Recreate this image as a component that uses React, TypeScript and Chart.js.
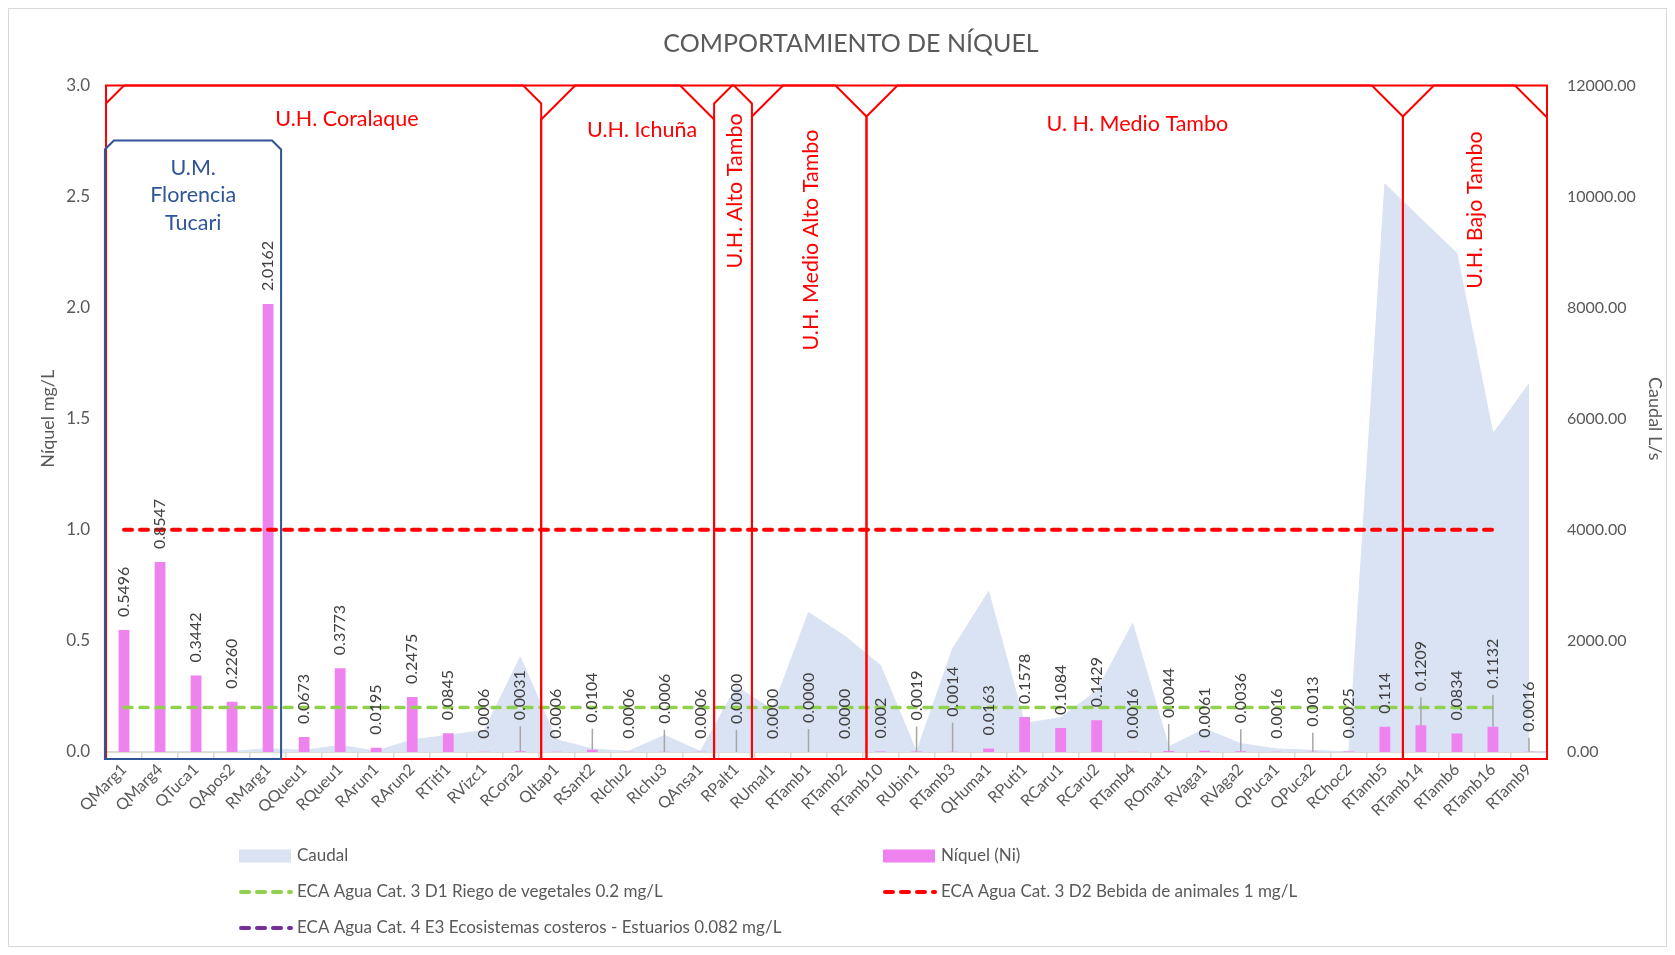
import React, { useEffect, useRef } from "react";
import { Chart, registerables } from "chart.js";

Chart.register(...registerables);

const FONT = "Lato, 'Open Sans', sans-serif";
const GREY = "#595959";

const chartTitle = "COMPORTAMIENTO DE NÍQUEL";

const categories = [
  "QMarg1", "QMarg4", "QTuca1", "QApos2", "RMarg1", "QQueu1", "RQueu1", "RArun1", "RArun2", "RTiti1",
  "RVizc1", "RCora2", "QItap1", "RSant2", "RIchu2", "RIchu3", "QAnsa1", "RPalt1", "RUmal1", "RTamb1",
  "RTamb2", "RTamb10", "RUbin1", "RTamb3", "QHuma1", "RPuti1", "RCaru1", "RCaru2", "RTamb4", "ROmat1",
  "RVaga1", "RVaga2", "QPuca1", "QPuca2", "RChoc2", "RTamb5", "RTamb14", "RTamb6", "RTamb16", "RTamb9",
];

const niquel = [
  0.5496, 0.8547, 0.3442, 0.226, 2.0162, 0.0673, 0.3773, 0.0195, 0.2475, 0.0845,
  0.0006, 0.0031, 0.0006, 0.0104, 0.0006, 0.0006, 0.0006, 0.0, 0.0, 0.0,
  0.0, 0.002, 0.0019, 0.0014, 0.0163, 0.1578, 0.1084, 0.1429, 0.0016, 0.0044,
  0.0061, 0.0036, 0.0016, 0.0013, 0.0025, 0.114, 0.1209, 0.0834, 0.1132, 0.0016,
];

const niquelLabels = [
  "0.5496", "0.8547", "0.3442", "0.2260", "2.0162", "0.0673", "0.3773", "0.0195", "0.2475", "0.0845",
  "0.0006", "0.0031", "0.0006", "0.0104", "0.0006", "0.0006", "0.0006", "0.0000", "0.0000", "0.0000",
  "0.0000", "0.002", "0.0019", "0.0014", "0.0163", "0.1578", "0.1084", "0.1429", "0.0016", "0.0044",
  "0.0061", "0.0036", "0.0016", "0.0013", "0.0025", "0.114", "0.1209", "0.0834", "0.1132", "0.0016",
];

const caudal = [
  0, 0, 0, 10, 60, 30, 120, 15, 220, 300,
  390, 1710, 224, 55, 12, 300, 12, 1175, 765, 2512,
  2090, 1560, 0, 1860, 2890, 515, 618, 1100, 2315, 90,
  418, 150, 55, 30, 0, 10230, 9600, 8980, 5730, 6630,
];

const ecaRiego = [
  0.2, 0.2, 0.2, 0.2, 0.2, 0.2, 0.2, 0.2, 0.2, 0.2,
  0.2, 0.2, 0.2, 0.2, 0.2, 0.2, 0.2, 0.2, 0.2, 0.2,
  0.2, 0.2, 0.2, 0.2, 0.2, 0.2, 0.2, 0.2, 0.2, 0.2,
  0.2, 0.2, 0.2, 0.2, 0.2, 0.2, 0.2, 0.2, 0.2, null,
];

const ecaBebida = [
  1, 1, 1, 1, 1, 1, 1, 1, 1, 1,
  1, 1, 1, 1, 1, 1, 1, 1, 1, 1,
  1, 1, 1, 1, 1, 1, 1, 1, 1, 1,
  1, 1, 1, 1, 1, 1, 1, 1, 1, null,
];

const ecaEstuarios: (number | null)[] = [];

const leftTicks = [0, 0.5, 1, 1.5, 2, 2.5, 3];
const rightTicks = [0, 2000, 4000, 6000, 8000, 10000, 12000];

// extra lift (px) for labels drawn with a leader line
const labelLift = [
  0, 0, 0, 0, 0, 0, 0, 0, 0, 0,
  0, 18, 0, 14, 0, 15, 0, 15, 0, 16,
  0, 0, 18, 22, 0, 0, 0, 0, 0, 20,
  0, 15, 0, 12, 0, 0, 21, 0, 25, 7,
];

// hydrographic unit boxes, in category-boundary units
const units = [
  { from: 0, to: 12.08, snipL: 18, snipR: 18, color: "#ff0000", top: 0 },
  { from: 12.08, to: 16.88, snipL: 34, snipR: 34, color: "#ff0000", top: 0 },
  { from: 16.88, to: 17.93, snipL: 18, snipR: 18, color: "#ff0000", top: 0 },
  { from: 17.93, to: 21.11, snipL: 31, snipR: 31, color: "#ff0000", top: 0 },
  { from: 21.11, to: 36, snipL: 31, snipR: 31, color: "#ff0000", top: 0 },
  { from: 36, to: 40, snipL: 31, snipR: 32, color: "#ff0000", top: 0 },
  { from: -0.03, to: 4.86, snipL: 9, snipR: 9, color: "#2f5597", top: 55 },
];

const unitLabels = [
  { lines: ["U.H. Coralaque"], at: 6.69, dy: 33.5, rot: false, color: "#ff0000" },
  { lines: ["U.M.", "Florencia", "Tucari"], at: 2.42, dy: 82.5, rot: false, color: "#2f5597" },
  { lines: ["U.H. Ichuña"], at: 14.88, dy: 44.5, rot: false, color: "#ff0000" },
  { lines: ["U.H. Alto Tambo"], at: 17.46, dy: 105.5, rot: true, color: "#ff0000" },
  { lines: ["U.H. Medio Alto Tambo"], at: 19.57, dy: 154.5, rot: true, color: "#ff0000" },
  { lines: ["U. H. Medio Tambo"], at: 28.63, dy: 38.5, rot: false, color: "#ff0000" },
  { lines: ["U.H. Bajo Tambo"], at: 38.0, dy: 124.5, rot: true, color: "#ff0000" },
];

const boundaryX = (chart: any, b: number) => chart.scales.x.getPixelForValue(b - 0.5);

const labelPlugin = {
  id: "niLabels",
  afterDatasetsDraw(chart: any) {
    const idx = chart.data.datasets.findIndex((d: any) => d.type === "bar");
    const meta = chart.getDatasetMeta(idx);
    const ctx = chart.ctx;
    ctx.save();
    meta.data.forEach((bar: any, i: number) => {
      const x = bar.x;
      const top = bar.y;
      const lift = labelLift[i] || 0;
      const bottom = top - 13 - lift;
      if (lift > 0) {
        ctx.strokeStyle = "#a6a6a6";
        ctx.lineWidth = 1.5;
        ctx.beginPath();
        ctx.moveTo(x, bottom + 6);
        ctx.lineTo(x, top);
        ctx.stroke();
      }
      ctx.save();
      ctx.translate(x, bottom);
      ctx.rotate(-Math.PI / 2);
      ctx.font = `16px ${FONT}`;
      ctx.fillStyle = "#404040";
      ctx.textAlign = "left";
      ctx.textBaseline = "middle";
      ctx.fillText(niquelLabels[i], 0, 0);
      ctx.restore();
    });
    ctx.restore();
  },
};

const boxesPlugin = {
  id: "unitBoxes",
  afterDraw(chart: any) {
    const ctx = chart.ctx;
    const area = chart.chartArea;
    const bottom = area.bottom + 7;
    ctx.save();
    // enclosing red frame (top, left, right)
    ctx.strokeStyle = "#ff0000";
    ctx.lineWidth = 2;
    ctx.beginPath();
    ctx.moveTo(boundaryX(chart, 0), bottom);
    ctx.lineTo(boundaryX(chart, 0), area.top);
    ctx.lineTo(boundaryX(chart, 40), area.top);
    ctx.lineTo(boundaryX(chart, 40), bottom);
    ctx.stroke();
    units.forEach((u) => {
      const x0 = boundaryX(chart, u.from);
      const x1 = boundaryX(chart, u.to);
      const t = area.top + u.top;
      ctx.strokeStyle = u.color;
      ctx.lineWidth = 2;
      ctx.lineJoin = "miter";
      ctx.beginPath();
      ctx.moveTo(x0, bottom);
      ctx.lineTo(x0, t + u.snipL);
      ctx.lineTo(x0 + u.snipL, t);
      ctx.lineTo(x1 - u.snipR, t);
      ctx.lineTo(x1, t + u.snipR);
      ctx.lineTo(x1, bottom);
      ctx.closePath();
      ctx.stroke();
    });
    ctx.font = `21.5px ${FONT}`;
    ctx.textAlign = "center";
    ctx.textBaseline = "middle";
    unitLabels.forEach((l) => {
      const x = chart.scales.x.getPixelForValue(l.at - 0.5);
      const y = area.top + l.dy;
      ctx.fillStyle = l.color;
      if (l.rot) {
        ctx.save();
        ctx.translate(x, y);
        ctx.rotate(-Math.PI / 2);
        ctx.fillText(l.lines[0], 0, 0);
        ctx.restore();
      } else {
        l.lines.forEach((s, k) => ctx.fillText(s, x, y + k * 27.5));
      }
    });
    // chart title
    ctx.font = `25px ${FONT}`;
    ctx.fillStyle = GREY;
    ctx.fillText(chartTitle, 842, 35);
    ctx.restore();
  },
};

const legendPlugin = {
  id: "customLegend",
  afterDraw(chart: any) {
    const ctx = chart.ctx;
    const ds = chart.data.datasets;
    const find = (lbl: string) => ds.find((d: any) => d.label === lbl);
    const items = [
      { d: find("Caudal"), col: 0, row: 0, kind: "box" },
      { d: find("Níquel (Ni)"), col: 1, row: 0, kind: "box" },
      { d: ds[0], col: 0, row: 1, kind: "dash" },
      { d: ds[1], col: 1, row: 1, kind: "dash" },
      { d: ds[2], col: 0, row: 2, kind: "dash" },
    ];
    const colX = [230, 874];
    const rowY = [847, 883, 919];
    ctx.save();
    ctx.font = `17px ${FONT}`;
    ctx.textBaseline = "middle";
    ctx.textAlign = "left";
    items.forEach((it) => {
      const x = colX[it.col];
      const y = rowY[it.row];
      if (it.kind === "box") {
        ctx.fillStyle = it.d.backgroundColor;
        ctx.fillRect(x, y - 6.5, 52, 13);
      } else {
        ctx.strokeStyle = it.d.borderColor;
        ctx.lineWidth = 4;
        ctx.lineCap = "round";
        ctx.setLineDash([8, 8]);
        ctx.beginPath();
        ctx.moveTo(x + 2, y);
        ctx.lineTo(x + 52, y);
        ctx.stroke();
        ctx.setLineDash([]);
      }
      ctx.fillStyle = GREY;
      ctx.fillText(it.d.label, x + 58, y);
    });
    ctx.restore();
  },
};

export default function App() {
  const ref = useRef<HTMLCanvasElement | null>(null);

  useEffect(() => {
    if (!ref.current) return;
    const chart = new Chart(ref.current, {
      type: "bar",
      data: {
        labels: categories,
        datasets: [
          {
            type: "line",
            label: "ECA Agua Cat. 3 D1 Riego de vegetales 0.2 mg/L",
            data: ecaRiego,
            borderColor: "#92d050",
            borderWidth: 3.5,
            borderDash: [8, 8],
            borderCapStyle: "round",
            pointRadius: 0,
            fill: false,
            yAxisID: "y",
            order: 0,
          },
          {
            type: "line",
            label: "ECA Agua Cat. 3 D2 Bebida de animales 1 mg/L",
            data: ecaBebida,
            borderColor: "#ff0000",
            borderWidth: 4,
            borderDash: [8, 8],
            borderCapStyle: "round",
            pointRadius: 0,
            fill: false,
            yAxisID: "y",
            order: 0,
          },
          {
            type: "line",
            label: "ECA Agua Cat. 4 E3 Ecosistemas costeros - Estuarios 0.082 mg/L",
            data: ecaEstuarios,
            borderColor: "#7030a0",
            borderWidth: 4,
            borderDash: [8, 8],
            pointRadius: 0,
            fill: false,
            yAxisID: "y",
            order: 0,
          },
          {
            type: "bar",
            label: "Níquel (Ni)",
            data: niquel,
            backgroundColor: "#ee82ee",
            barPercentage: 0.3,
            categoryPercentage: 1,
            yAxisID: "y",
            order: 1,
          },
          {
            type: "line",
            label: "Caudal",
            data: caudal,
            fill: "origin",
            backgroundColor: "#dae3f3",
            borderColor: "#dae3f3",
            borderWidth: 1,
            pointRadius: 0,
            tension: 0,
            yAxisID: "y1",
            order: 2,
          },
        ] as any,
      },
      options: {
        animation: false,
        responsive: false,
        maintainAspectRatio: false,
        layout: { padding: { left: 0, right: 0, top: 76.5, bottom: 0 } },
        plugins: {
          legend: { display: false },
          tooltip: { enabled: false },
          title: { display: false },
        },
        scales: {
          x: {
            offset: true,
            grid: {
              display: true,
              drawOnChartArea: false,
              drawTicks: true,
              tickLength: 6,
              color: "#d9d9d9",
              offset: true,
              lineWidth: 1.5,
            },
            border: { display: true, color: "#d9d9d9", width: 2 },
            ticks: {
              autoSkip: false,
              minRotation: 45,
              maxRotation: 45,
              color: GREY,
              padding: 2,
              font: { family: FONT, size: 16 },
            },
            afterFit: (s: any) => {
              s.height = 194;
            },
          },
          y: {
            position: "left",
            min: 0,
            max: 3,
            afterBuildTicks: (s: any) => {
              s.ticks = leftTicks.map((v) => ({ value: v }));
            },
            ticks: {
              color: GREY,
              padding: 16,
              font: { family: FONT, size: 17 },
              callback: (v: any) => Number(v).toFixed(1),
            },
            grid: { display: false, drawTicks: false },
            border: { display: false },
            title: {
              display: true,
              text: "Níquel mg/L",
              color: GREY,
              font: { family: FONT, size: 18 },
              padding: { top: 28, bottom: 0 },
            },
            afterFit: (s: any) => {
              s.width = 97;
            },
          },
          y1: {
            position: "right",
            min: 0,
            max: 12000,
            afterBuildTicks: (s: any) => {
              s.ticks = rightTicks.map((v) => ({ value: v }));
            },
            ticks: {
              color: GREY,
              padding: 20,
              font: { family: FONT, size: 16 },
              callback: (v: any) => Number(v).toFixed(2),
            },
            grid: { display: false, drawTicks: false },
            border: { display: false },
            title: {
              display: true,
              text: "Caudal L/s",
              color: GREY,
              font: { family: FONT, size: 18 },
              padding: { top: 0, bottom: 0 },
            },
            afterFit: (s: any) => {
              s.width = 119;
            },
          },
        },
      } as any,
      plugins: [labelPlugin, boxesPlugin, legendPlugin],
    });
    return () => chart.destroy();
  }, []);

  return (
    <div
      style={{
        width: 1657,
        height: 937,
        border: "1px solid #d9d9d9",
        background: "#ffffff",
      }}
    >
      <canvas ref={ref} width={1657} height={937} style={{ display: "block" }} />
    </div>
  );
}
